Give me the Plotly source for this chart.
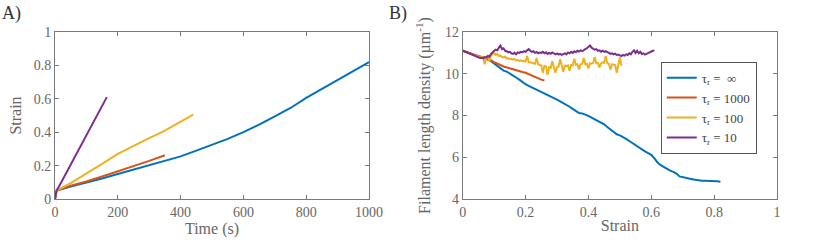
import plotly.graph_objects as go

# ---------------- Panel A data: strain vs time ----------------
time_inf = [0, 5, 50, 100, 150, 200, 250, 300, 350, 400, 450, 500, 550, 600, 650, 700, 750, 800, 850, 900, 950, 1000]
strain_inf = [0, 0.05, 0.075, 0.097, 0.123, 0.15, 0.177, 0.202, 0.228, 0.255, 0.29, 0.325, 0.36, 0.40, 0.445, 0.495, 0.545, 0.605, 0.66, 0.71, 0.765, 0.82]

time_1000 = [0, 5, 50, 100, 150, 200, 250, 300, 350]
strain_1000 = [0, 0.05, 0.08, 0.105, 0.135, 0.165, 0.195, 0.228, 0.262]

time_100 = [0, 5, 50, 100, 150, 200, 250, 300, 350, 400, 440]
strain_100 = [0, 0.05, 0.095, 0.15, 0.21, 0.27, 0.32, 0.365, 0.41, 0.46, 0.505]

time_10 = [0, 5, 20, 40, 60, 80, 100, 120, 140, 165]
strain_10 = [0, 0.05, 0.1, 0.17, 0.24, 0.31, 0.38, 0.45, 0.52, 0.61]

# ---------------- Panel B data: filament length density vs strain ----------------
dens_inf = [11.10, 11.05, 11.00, 10.95, 10.90, 10.85, 10.80, 10.75, 10.68, 10.60,
            10.48, 10.38, 10.25, 10.15, 10.10, 10.02, 9.92, 9.82, 9.72, 9.60,
            9.50, 9.42, 9.35, 9.28, 9.20, 9.12, 9.08, 9.00, 8.92, 8.84,
            8.76, 8.68, 8.60, 8.52, 8.42, 8.32, 8.20, 8.12, 8.10, 8.05,
            7.98, 7.90, 7.82, 7.72, 7.65, 7.58, 7.45, 7.32, 7.20, 7.10,
            7.05, 6.98, 6.88, 6.78, 6.68, 6.55, 6.45, 6.35, 6.28, 6.20,
            6.12, 5.95, 5.75, 5.62, 5.52, 5.43, 5.36, 5.30, 5.22, 5.08,
            5.04, 5.00, 4.98, 4.95, 4.92, 4.88, 4.87, 4.87, 4.87, 4.86,
            4.86, 4.85, 4.83]
step_inf = 0.01

dens_1000 = [11.10, 11.05, 11.00, 10.95, 10.90, 10.85, 10.80, 10.76, 10.70, 10.65,
             10.55, 10.50, 10.42, 10.35, 10.30, 10.25, 10.20, 10.15, 10.10, 10.08,
             10.05, 9.98, 9.92, 9.85, 9.80, 9.72, 9.68]
step_1000 = 0.01

dens_100 = [11.10, 11.07, 11.04, 11.00, 10.98, 10.95, 10.92, 10.90, 10.88, 10.85,
            10.83, 10.80, 10.82, 10.78, 10.45, 10.80, 10.85, 10.60, 10.88, 10.92,
            11.00, 10.90, 10.95, 10.85, 10.88, 10.80, 10.78, 10.82, 10.72, 10.75,
            10.70, 10.72, 10.68, 10.70, 10.65, 10.66, 10.62, 10.64, 10.60, 10.62,
            10.58, 10.85, 10.56, 10.55, 10.52, 10.50, 10.48, 10.75, 10.45, 10.42,
            10.40, 10.05, 10.38, 10.35, 9.95, 10.32, 10.28, 10.60, 10.30, 10.05,
            10.32, 10.35, 10.70, 10.35, 10.10, 10.38, 10.36, 10.40, 10.15, 10.42,
            10.40, 10.72, 10.42, 10.45, 10.20, 10.45, 10.48, 10.75, 10.46, 10.48,
            10.25, 10.50, 10.48, 10.52, 10.80, 10.50, 10.52, 10.30, 10.50, 10.55,
            10.52, 10.85, 10.50, 10.48, 10.20, 10.46, 10.45, 10.42, 10.05, 10.40,
            10.78, 10.38]
step_100 = 0.005

dens_10 = [11.10, 11.08, 11.05, 11.02, 10.98, 10.95, 10.90, 10.86, 10.83, 10.80,
           10.78, 10.76, 10.77, 10.75, 10.80, 10.78, 10.85, 10.82, 10.95, 11.05,
           11.10, 11.15, 11.12, 11.25, 11.35, 11.18, 11.22, 11.10, 11.08, 11.02,
           11.05, 10.98, 10.95, 11.00, 10.93, 11.02, 11.00, 11.05, 11.03, 11.08,
           11.05, 11.12, 11.18, 11.10, 11.05, 11.08, 11.00, 11.04, 10.98, 11.02,
           11.00, 11.05, 10.98, 11.03, 10.95, 11.00, 10.96, 11.02, 10.98, 10.93,
           10.97, 10.92, 10.95, 10.90, 10.94, 10.98, 10.93, 11.02, 10.98, 11.05,
           11.00, 11.08, 11.03, 11.10, 11.06, 11.12, 11.08, 11.15, 11.18, 11.22,
           11.28, 11.35, 11.25, 11.20, 11.15, 11.18, 11.10, 11.12, 11.05, 11.10,
           11.05, 11.08, 11.02, 11.00, 10.95, 10.98, 10.93, 10.96, 10.90, 10.92,
           10.88, 10.85, 10.90, 10.87, 10.93, 10.90, 10.98, 10.93, 11.05, 11.12,
           11.00, 11.10, 10.98, 11.05, 10.95, 10.98, 10.92, 10.96, 11.02, 11.05,
           11.08, 11.10, 11.12]
step_10 = 0.005

legend_names = ["τ<sub>r</sub> =  ∞", "τ<sub>r</sub> = 1000", "τ<sub>r</sub> = 100", "τ<sub>r</sub> = 10"]
colors = ["#0072BD", "#D95319", "#EDB120", "#7E2F8E"]

xticks_a = [0, 200, 400, 600, 800, 1000]
yticks_a = [0, 0.2, 0.4, 0.6, 0.8, 1]
xticks_b = [0, 0.2, 0.4, 0.6, 0.8, 1]
yticks_b = [4, 6, 8, 10, 12]


def grid(vals, step):
    return [round(i * step, 4) for i in range(len(vals))]


fig = go.Figure()

panel_a = [(time_inf, strain_inf), (time_1000, strain_1000), (time_100, strain_100), (time_10, strain_10)]
for (t, s), c in zip(panel_a, colors):
    fig.add_trace(go.Scatter(x=t, y=s, mode="lines", line=dict(color=c, width=2),
                             xaxis="x", yaxis="y", showlegend=False))

panel_b = [(dens_inf, step_inf), (dens_1000, step_1000), (dens_100, step_100), (dens_10, step_10)]
for (d, st), c, n in zip(panel_b, colors, legend_names):
    fig.add_trace(go.Scatter(x=grid(d, st), y=d, mode="lines", line=dict(color=c, width=2),
                             xaxis="x2", yaxis="y2", name=n, showlegend=True))

SERIF = "Liberation Serif"
axis_color = "#7a7a7a"
tick_font = dict(family=SERIF, size=14, color="#666666")
title_font = dict(family=SERIF, size=16, color="#666666")

common = dict(showline=True, linecolor=axis_color, linewidth=1, mirror="ticks",
              ticks="inside", ticklen=4, tickcolor=axis_color, showgrid=False,
              zeroline=False, tickfont=tick_font, automargin=False)

fig.update_layout(
    width=830, height=243,
    margin=dict(l=55, r=53, t=32, b=44),
    paper_bgcolor="white", plot_bgcolor="white",
    font=dict(family=SERIF),
    xaxis=dict(domain=[0, 0.4349], range=[0, 1000], tickvals=xticks_a,
               title=dict(text="Time (s)", font=title_font, standoff=1), **common),
    yaxis=dict(domain=[0, 1], range=[0, 1], tickvals=yticks_a,
               ticktext=[str(v) for v in yticks_a],
               title=dict(text="Strain", font=title_font, standoff=8), **common),
    xaxis2=dict(domain=[0.5647, 1], range=[0, 1], tickvals=xticks_b,
                ticktext=[str(v) for v in xticks_b], anchor="y2",
                title=dict(text="Strain", font=title_font, standoff=1), **common),
    yaxis2=dict(domain=[0, 1], range=[4, 12], tickvals=yticks_b, anchor="x2",
                title=dict(text="Filament length density (µm<sup>-1</sup>)", font=title_font, standoff=10),
                **common),
    legend=dict(x=0.839, y=0.822, xanchor="left", yanchor="top",
                bgcolor="white", bordercolor="#555555", borderwidth=1,
                font=dict(family=SERIF, size=13, color="#444444"),
                tracegroupgap=0, itemwidth=30),
    annotations=[
        dict(text="A)", x=0, y=1, xref="paper", yref="paper", xanchor="left", yanchor="top",
             xshift=-55, yshift=31, showarrow=False,
             font=dict(family=SERIF, size=18, color="#333333")),
        dict(text="B)", x=0.5647, y=1, xref="paper", yref="paper", xanchor="left", yanchor="top",
             xshift=-76, yshift=31, showarrow=False,
             font=dict(family=SERIF, size=18, color="#333333")),
    ],
)

fig.write_html("out.html", config={"displayModeBar": False},
               post_script="document.body.style.margin='0';document.body.style.padding='0';")
